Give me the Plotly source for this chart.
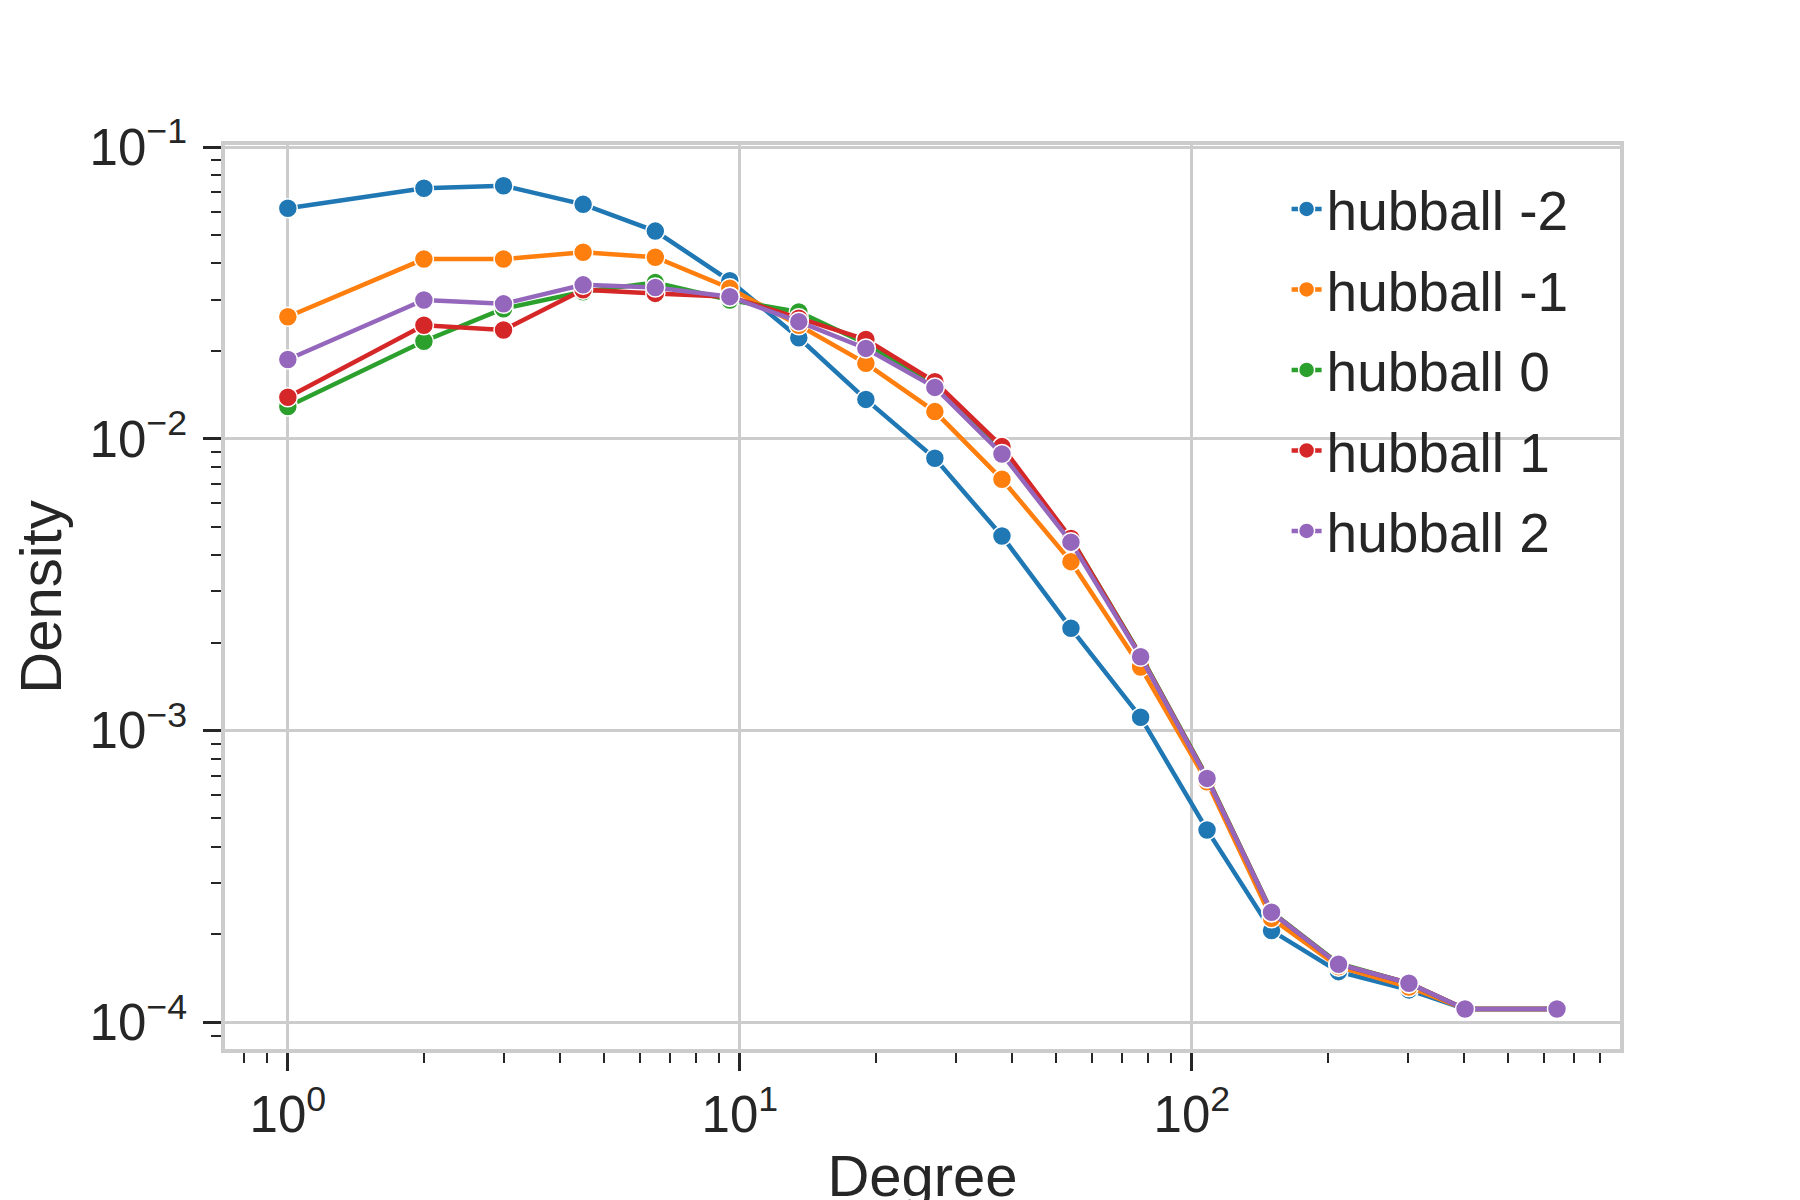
import plotly.graph_objects as go

# degree bins (log-spaced) and density per hubball setting
degree = [1, 2, 3, 4.5, 6.5, 9.5, 13.5, 19, 27, 38, 54, 77, 108, 150, 211, 302, 402, 642]

hubball_m2 = [0.0617, 0.0722, 0.0737, 0.0636, 0.0515, 0.0348, 0.0222, 0.01364, 0.00857, 0.00464,
              0.00224, 0.00111, 0.000456, 0.000206, 0.000149, 0.000129, 0.000111, 0.000111]
hubball_m1 = [0.0262, 0.0413, 0.0413, 0.0436, 0.0419, 0.0328, 0.0245, 0.01813, 0.01239, 0.00726,
              0.00379, 0.00165, 0.000667, 0.000227, 0.000155, 0.000132, 0.000111, 0.000111]
hubball_0 = [0.0129, 0.0216, 0.0279, 0.0319, 0.0343, 0.0299, 0.0272, 0.0212, 0.0154, 0.00914,
             0.00455, 0.00181, 0.000693, 0.000239, 0.000159, 0.000136, 0.000111, 0.000111]
hubball_1 = [0.01387, 0.0245, 0.0236, 0.0324, 0.0315, 0.0307, 0.0259, 0.0219, 0.01568, 0.0094,
             0.00455, 0.00180, 0.000688, 0.000238, 0.000158, 0.000136, 0.000111, 0.000111]
hubball_2 = [0.0187, 0.0299, 0.0290, 0.0337, 0.0330, 0.0307, 0.0252, 0.0204, 0.0150, 0.00887,
             0.00442, 0.00179, 0.000685, 0.000238, 0.000158, 0.000136, 0.000111, 0.000111]

series_names = ['hubball -2', 'hubball -1', 'hubball 0', 'hubball 1', 'hubball 2']
series_values = [hubball_m2, hubball_m1, hubball_0, hubball_1, hubball_2]
colors = ['#1f77b4', '#ff7f0e', '#2ca02c', '#d62728', '#9467bd']

x_ticks = [1, 10, 100]
x_tick_text = ['10<sup>0</sup>', '10<sup>1</sup>', '10<sup>2</sup>']
y_ticks = [1e-4, 1e-3, 1e-2, 1e-1]
y_tick_text = ['10<sup>\u22124</sup>', '10<sup>\u22123</sup>', '10<sup>\u22122</sup>', '10<sup>\u22121</sup>']

x_minor = [0.8, 0.9] + [m * 10 ** e for e in range(0, 3) for m in range(2, 10)]
y_minor = [9e-5] + [m * 10.0 ** e for e in range(-4, -1) for m in range(2, 10)]

FONT = 'Liberation Sans, Arial, sans-serif'
INK = '#262626'
GRID = '#cccccc'

fig = go.Figure()
for name, vals, col in zip(series_names, series_values, colors):
    fig.add_trace(go.Scatter(x=degree, y=vals, name=name, legendgroup=name, mode='lines+markers',
                             line=dict(color=col, width=4.5),
                             marker=dict(color=col, size=19, line=dict(color='white', width=1.5))))

axis_common = dict(type='log', showline=True, linecolor=GRID, linewidth=3.5, mirror=True,
                   showgrid=True, gridcolor=GRID, gridwidth=2.5, zeroline=False, automargin=False,
                   ticks='outside', ticklen=18, tickwidth=2.5, tickcolor=INK,
                   tickfont=dict(family=FONT, size=51, color=INK))

fig.update_xaxes(range=[-0.139, 2.947], tickmode='array', tickvals=x_ticks, ticktext=x_tick_text,
                 minor=dict(tickmode='array', tickvals=x_minor, ticks='outside', ticklen=10,
                            tickwidth=2, tickcolor=INK, showgrid=False),
                 title=dict(text='Degree', font=dict(family=FONT, size=58, color=INK), standoff=14),
                 **axis_common)
fig.update_yaxes(range=[-4.092, -0.993], tickmode='array', tickvals=y_ticks, ticktext=y_tick_text,
                 minor=dict(tickmode='array', tickvals=y_minor, ticks='outside', ticklen=10,
                            tickwidth=2, tickcolor=INK, showgrid=False),
                 ticklabelstandoff=6,
                 title=dict(text='Density', font=dict(family=FONT, size=58, color=INK), standoff=14),
                 **axis_common)

# page body adds an 8px offset, so margins are nudged to keep the plot box in place
fig.update_layout(
    width=1800, height=1200,
    margin=dict(l=217, r=188, t=137, b=159),
    plot_bgcolor='white', paper_bgcolor='white',
    font=dict(family=FONT, color=INK),
    legend=dict(x=0.761, y=0.976, xanchor='left', yanchor='top',
                font=dict(family=FONT, size=55, color=INK), tracegroupgap=6,
                bgcolor='rgba(0,0,0,0)', borderwidth=0),
)

fig.write_html('out.html')
